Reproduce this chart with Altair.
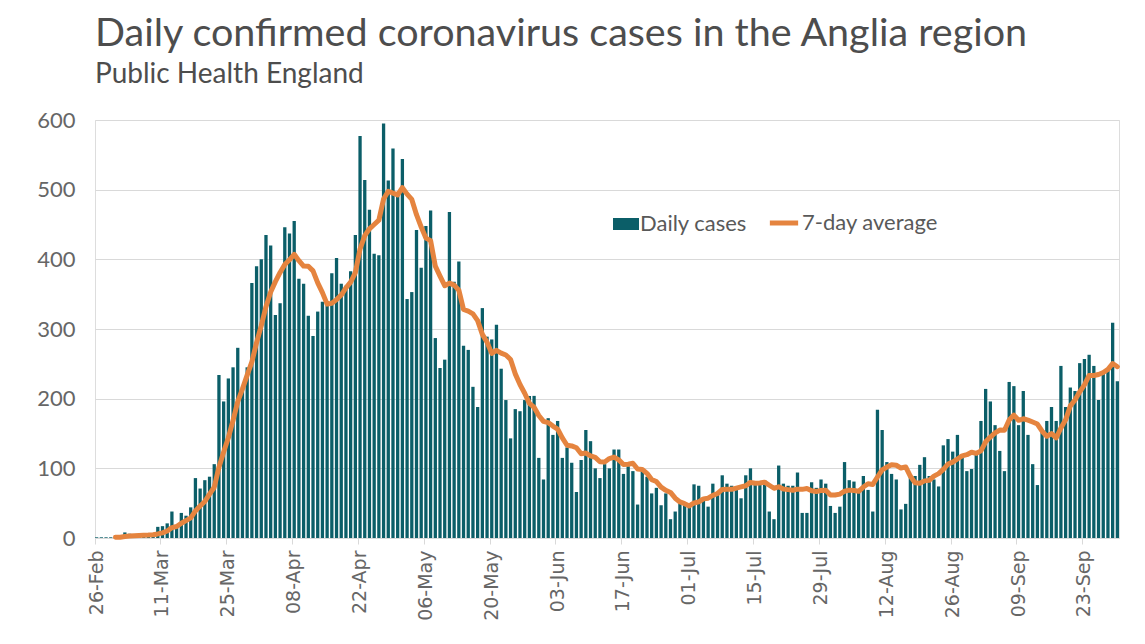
import altair as alt
import pandas as pd

# Daily confirmed cases, one value per day starting 26 February 2020
start_date = "2020-02-26"
daily_cases = [
    1, 1, 1, 1, 2, 1, 8, 6, 3, 4, 4, 3, 5, 16,
    17, 21, 38, 15, 36, 32, 44, 86, 71, 83, 88, 106, 234, 196,
    229, 245, 273, 215, 245, 366, 390, 400, 435, 420, 320, 337, 446, 437,
    455, 372, 365, 319, 290, 325, 339, 340, 380, 402, 365, 362, 383, 435,
    577, 514, 471, 408, 406, 595, 513, 559, 495, 544, 343, 353, 442, 388,
    448, 470, 287, 244, 256, 468, 368, 397, 276, 270, 217, 188, 330, 289,
    285, 306, 243, 198, 143, 185, 182, 198, 204, 204, 115, 84, 172, 148,
    168, 115, 130, 108, 66, 112, 155, 139, 100, 86, 106, 100, 127, 127,
    92, 103, 96, 48, 96, 88, 64, 72, 47, 64, 27, 38, 50, 47,
    49, 77, 75, 57, 45, 78, 66, 90, 78, 75, 69, 57, 90, 100,
    81, 81, 83, 38, 27, 104, 78, 75, 75, 94, 36, 36, 80, 72,
    84, 78, 46, 36, 45, 109, 83, 81, 69, 89, 69, 38, 184, 155,
    109, 92, 84, 41, 49, 90, 89, 105, 116, 89, 84, 74, 133, 142,
    124, 148, 120, 96, 99, 121, 168, 214, 196, 162, 125, 96, 224, 218,
    162, 211, 148, 106, 76, 152, 168, 188, 168, 247, 188, 216, 211, 251,
    257, 263, 247, 198, 236, 243, 309, 225,
]

tick_labels = [
    "26-Feb", "11-Mar", "25-Mar", "08-Apr", "22-Apr", "06-May", "20-May", "03-Jun",
    "17-Jun", "01-Jul", "15-Jul", "29-Jul", "12-Aug", "26-Aug", "09-Sep", "23-Sep",
]
y_ticks = [0, 100, 200, 300, 400, 500, 600]

TEAL = "#0b5e68"
ORANGE = "#e5843f"
TEXT = "#595959"
AXIS_TEXT = "#666666"
GRID = "#d9d9d9"

dates = pd.date_range(start_date, periods=len(daily_cases), freq="D")
day_labels = [d.strftime("%d-%b") for d in dates]

df = pd.DataFrame({
    "day": day_labels,
    "order": list(range(len(daily_cases))),
    "cases": daily_cases,
    "series": "Daily cases",
})

x_enc = alt.X(
    "day:O",
    sort=day_labels,
    title=None,
    scale=alt.Scale(paddingInner=0.3, paddingOuter=0),
    axis=alt.Axis(
        values=tick_labels,
        labelAngle=270,
        bandPosition=0,
        labelFont="DejaVu Sans",
        labelFontSize=19,
        labelColor=AXIS_TEXT,
        labelPadding=6,
        tickColor=GRID,
        tickSize=6,
        domainColor=GRID,
        grid=False,
    ),
)

y_enc = alt.Y(
    "cases:Q",
    title=None,
    scale=alt.Scale(domain=[0, 600], nice=False),
    axis=alt.Axis(
        values=y_ticks,
        domain=False,
        ticks=False,
        grid=True,
        gridColor=GRID,
        labelFont="Lato",
        labelFontSize=22,
        labelColor=AXIS_TEXT,
        labelPadding=20,
    ),
)

bars = alt.Chart(df).mark_bar(opacity=1).encode(
    x=x_enc,
    y=y_enc,
    color=alt.Color(
        "series:N",
        scale=alt.Scale(domain=["Daily cases"], range=[TEAL]),
        legend=alt.Legend(
            orient="none",
            legendX=518,
            legendY=91,
            title=None,
            symbolType="M-1,-0.46H1V0.46H-1Z",
            symbolSize=676,
            symbolStrokeWidth=0,
            labelFont="Lato",
            labelFontSize=22,
            labelColor=TEXT,
            labelOffset=1,
        ),
    ),
)

line = alt.Chart(df).transform_window(
    avg="mean(cases)",
    sort=[alt.SortField("order")],
    frame=[-6, 0],
).transform_filter(
    alt.datum.order >= 4
).transform_calculate(
    series2="'7-day average'"
).mark_line(strokeWidth=5, strokeCap="round", strokeJoin="round").encode(
    x=alt.X("day:O", sort=day_labels),
    y=alt.Y("avg:Q"),
    stroke=alt.Stroke(
        "series2:N",
        scale=alt.Scale(domain=["7-day average"], range=[ORANGE]),
        legend=alt.Legend(
            orient="none",
            legendX=672,
            legendY=86,
            title=None,
            symbolType="stroke",
            symbolSize=800,
            symbolStrokeWidth=5,
            labelFont="Lato",
            labelFontSize=22,
            labelColor=TEXT,
            labelOffset=1,
        ),
    ),
)

chart = alt.layer(bars, line).properties(
    width=1024,
    height=418,
    padding={"left": 95, "top": 120, "right": 26, "bottom": 106},
    autosize=alt.AutoSizeParams(type="none"),
    title=alt.TitleParams(
        text="Daily confirmed coronavirus cases in the Anglia region",
        subtitle="Public Health England",
        anchor="start",
        frame="group",
        font="Lato",
        fontSize=39.5,
        fontWeight="normal",
        color="#4d4d4d",
        subtitleFont="Lato",
        subtitleFontSize=28,
        subtitleColor="#4d4d4d",
        subtitlePadding=7,
        offset=19,
    ),
).configure_view(stroke=None).configure(background="white")

chart.save("out.html", embed_options={"renderer": "svg", "actions": False})
